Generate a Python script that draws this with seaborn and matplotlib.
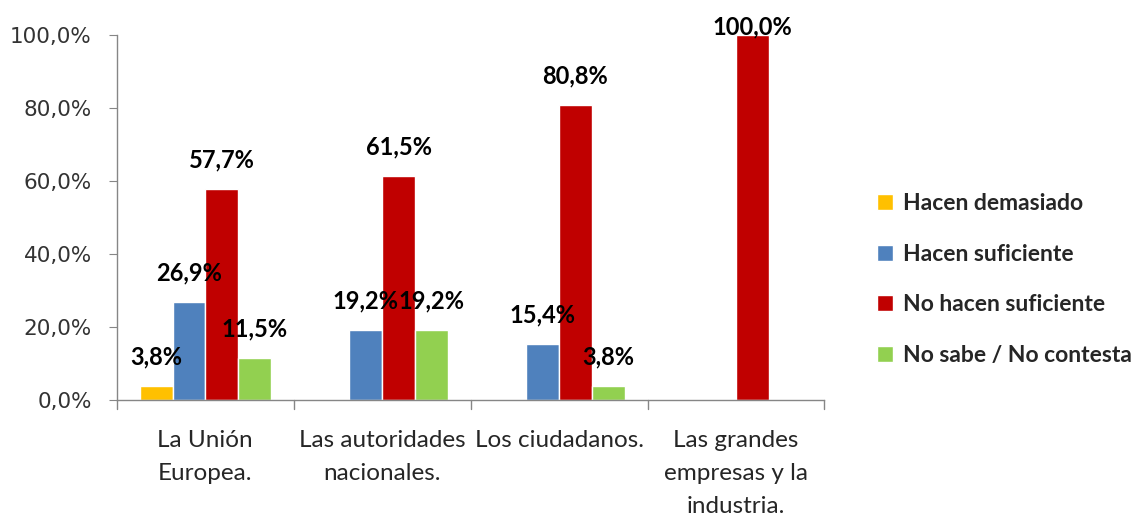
import pandas as pd
import matplotlib
matplotlib.use("Agg")
import matplotlib.pyplot as plt
import seaborn as sns
from matplotlib.ticker import FuncFormatter

# --- Data ---
categories = ["La Unión\nEuropea.", "Las autoridades\nnacionales.",
              "Los ciudadanos.", "Las grandes\nempresas y la\nindustria."]
series = ["Hacen demasiado", "Hacen suficiente", "No hacen suficiente", "No sabe / No contesta"]
hacen_demasiado = [3.8, 0.0, 0.0, 0.0]
hacen_suficiente = [26.9, 19.2, 15.4, 0.0]
no_hacen_suficiente = [57.7, 61.5, 80.8, 100.0]
no_sabe = [11.5, 19.2, 3.8, 0.0]
colors = ["#FFC000", "#4F81BD", "#C00000", "#92D050"]

values = [hacen_demasiado, hacen_suficiente, no_hacen_suficiente, no_sabe]
rows = []
for s, vals in zip(series, values):
    for c, v in zip(categories, vals):
        rows.append({"Categoria": c, "Serie": s, "Valor": v / 100})
df = pd.DataFrame(rows)

sns.set_style("white")
plt.rcParams["font.family"] = ["Lato", "DejaVu Sans"]

fig = plt.figure(figsize=(11.34, 5.18), dpi=100)
ax = fig.add_axes([0.103, 0.228, 0.624, 0.704])

sns.barplot(data=df, x="Categoria", y="Valor", hue="Serie", order=categories,
            hue_order=series, palette=colors, width=0.74, saturation=1,
            ax=ax, legend=True)

# data labels (only for non-zero bars)
for cont in ax.containers:
    for bar in cont:
        h = bar.get_height()
        if h <= 0:
            continue
        y = min(h + 0.08, 1.022)
        ax.text(bar.get_x() + bar.get_width() / 2, y,
                f"{h * 100:.1f}%".replace(".", ","),
                ha="center", va="center", fontsize=17, fontweight="bold",
                color="black", clip_on=False)

ax.set_ylim(0, 1)
ax.set_xlim(-0.5, 3.5)
ax.set_yticks([0, 0.2, 0.4, 0.6, 0.8, 1.0])
ax.yaxis.set_major_formatter(FuncFormatter(lambda v, p: f"{v * 100:.1f}%".replace(".", ",")))
ax.tick_params(axis="y", labelsize=15.5, labelcolor="#333333", length=6, color="#868686",
               direction="out", left=True, pad=12)
for lab in ax.get_yticklabels():
    lab.set_family(["DejaVu Sans"])

ax.set_xticks([0, 1, 2, 3])
ax.set_xticklabels(categories, fontsize=17.5, linespacing=1.7)
ax.tick_params(axis="x", length=0, pad=22)
for b in [-0.5, 0.5, 1.5, 2.5, 3.5]:
    ax.plot([b, b], [0, -0.025], color="#868686", lw=1, clip_on=False, transform=ax.get_xaxis_transform())

ax.set_xlabel("")
ax.set_ylabel("")
for side in ["top", "right"]:
    ax.spines[side].set_visible(False)
for side in ["left", "bottom"]:
    ax.spines[side].set_color("#868686")
    ax.spines[side].set_linewidth(1)

ax.legend(loc="center left", bbox_to_anchor=(1.045, 0.33), frameon=False,
          prop={"size": 16.5, "weight": "bold"}, handlelength=0.7, handleheight=0.7,
          handletextpad=0.45, labelspacing=1.3)

fig.savefig("out.png", dpi=100)
